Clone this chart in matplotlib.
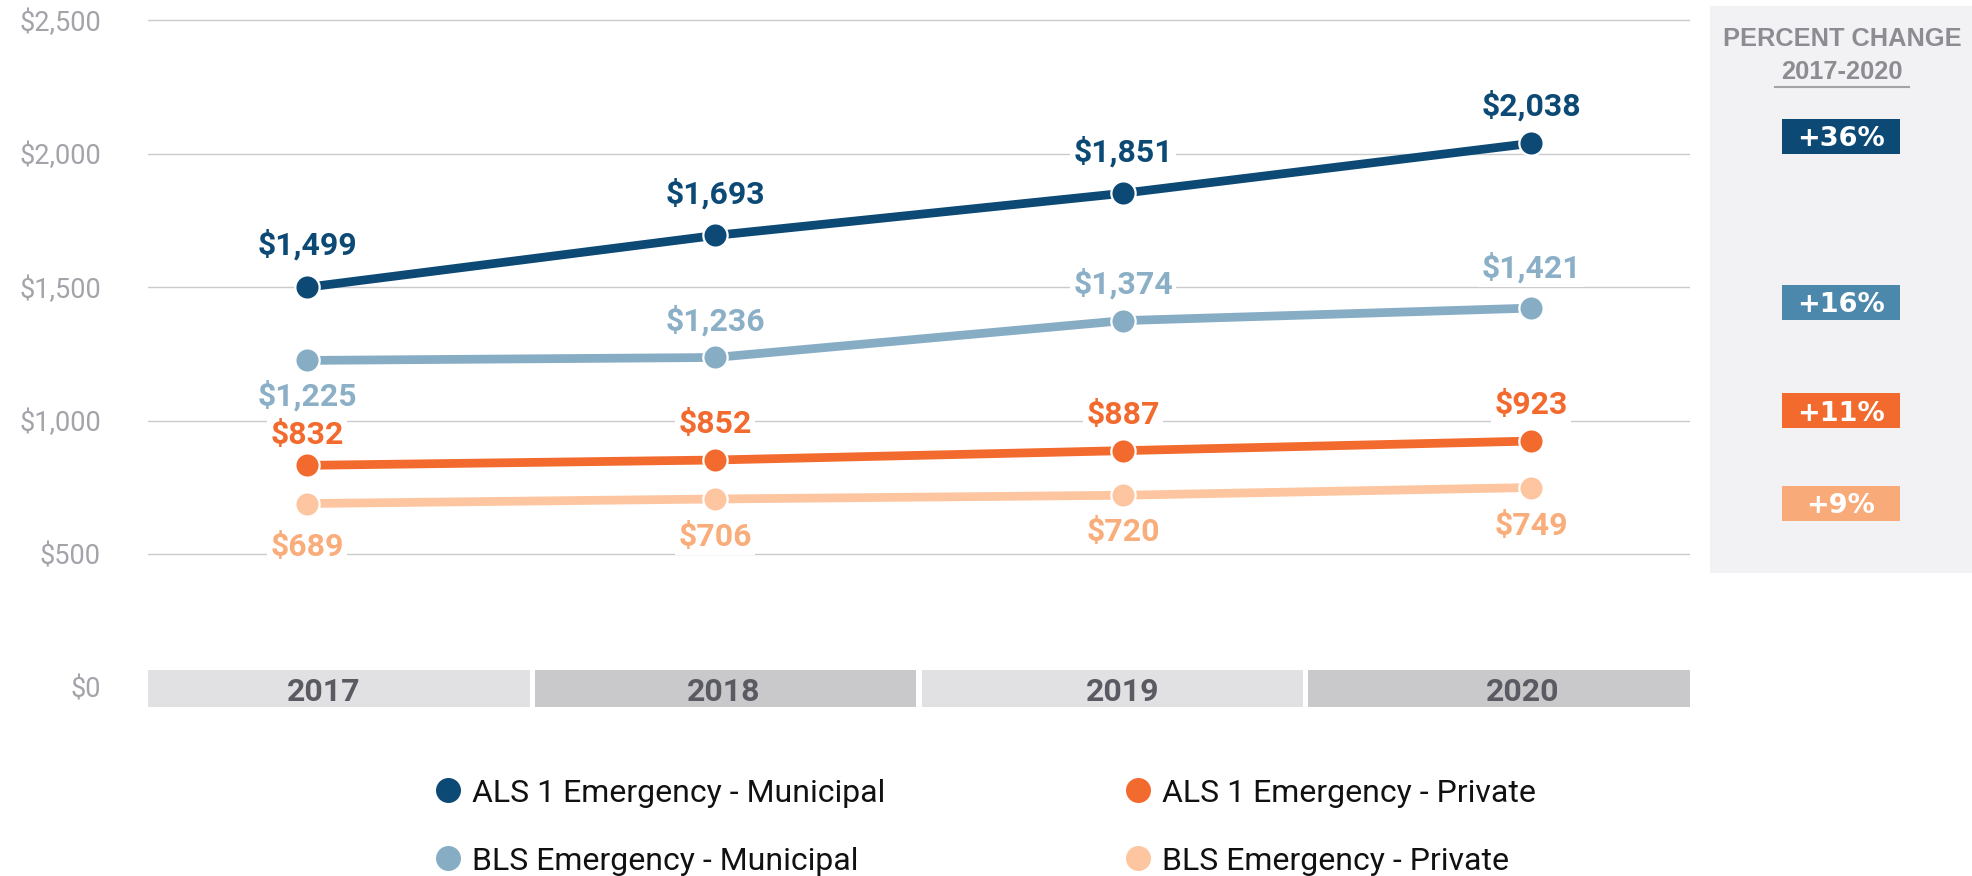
import matplotlib
matplotlib.use("Agg")
import matplotlib.pyplot as plt
from matplotlib.patches import Rectangle
from matplotlib.lines import Line2D

# ---------------- data ----------------
years = ["2017", "2018", "2019", "2020"]
series_names = ["ALS 1 Emergency - Municipal", "BLS Emergency - Municipal",
                "ALS 1 Emergency - Private", "BLS Emergency - Private"]
als_municipal = [1499, 1693, 1851, 2038]
bls_municipal = [1225, 1236, 1374, 1421]
als_private = [832, 852, 887, 923]
bls_private = [689, 706, 720, 749]
pct_change = ["+36%", "+16%", "+11%", "+9%"]
yticks = [0, 500, 1000, 1500, 2000, 2500]
ytick_labels = ["$0", "$500", "$1,000", "$1,500", "$2,000", "$2,500"]
panel_title = ["PERCENT CHANGE", "2017-2020"]

# ---------------- style ----------------
line_colors = ["#0c4a75", "#87adc5", "#f26a2d", "#fdc6a0"]
label_colors = ["#0c4a75", "#8aafc6", "#f26a2d", "#f9ad7b"]
badge_colors = ["#0c4a75", "#4b88ac", "#f26a2d", "#f8ab78"]
band_colors = ["#e1e1e3", "#c9c9cb", "#e1e1e3", "#c9c9cb"]
FONT = ["Roboto", "DejaVu Sans"]
plt.rcParams["font.family"] = FONT

W, H = 1972, 876
fig = plt.figure(figsize=(W / 100, H / 100), dpi=100)


def fx(px):
    return px / W


def fy(py):
    return 1 - py / H


# main axes geometry (pixels)
px_per_unit = 133.5 / 500.0
y0_px = 687.5
ylo, yhi = -300, 2550
left_px, right_px = 148, 1690
bottom_px = y0_px - ylo * px_per_unit
top_px = y0_px - yhi * px_per_unit
ax = fig.add_axes([fx(left_px), fy(bottom_px), (right_px - left_px) / W,
                   (bottom_px - top_px) / H])
ax.set_ylim(ylo, yhi)
x = list(range(len(years)))
xl, xr = -0.3897, 3.3897
ax.set_xlim(xl, xr)
for s in ax.spines.values():
    s.set_visible(False)
ax.set_xticks([])
ax.set_yticks(yticks)
ax.set_yticklabels(ytick_labels)
ax.tick_params(axis="y", length=0, pad=34, labelsize=19.5, labelcolor="#a3a3a9")
for t in yticks[1:]:
    ax.axhline(t, color="#cbcbcb", lw=1.0, zorder=1)

# year bands
gap = 5 / 408.0
bw = ((xr - xl) - 3 * gap) / 4
band_lo, band_hi = -73, 65.5
year_label_x = [0.04, 1.02, 2.0, 2.98]
for i, yr in enumerate(years):
    bx = xl + i * (bw + gap)
    ax.add_patch(Rectangle((bx, band_lo), bw, band_hi - band_lo,
                           facecolor=band_colors[i], edgecolor="none", zorder=2))
    ax.text(year_label_x[i], (band_lo + band_hi) / 2, yr, ha="center", va="center_baseline",
            fontsize=23, fontweight="bold", color="#5a5a62", zorder=3)

# lines
all_series = [als_municipal, bls_municipal, als_private, bls_private]
offsets = [
    [42, 42, 41, 38],
    [-35, 37, 37, 40],
    [30, 36, 36, 36],
    [-43, -38, -37, -38],
]
for k, vals in enumerate(all_series):
    ax.plot(x, vals, color=line_colors[k], lw=6.3, marker="o", markersize=17.5,
            markerfacecolor=line_colors[k], markeredgecolor="white",
            markeredgewidth=1.6, zorder=5 + (3 - k), solid_capstyle="butt")
    for i, v in enumerate(vals):
        off = offsets[k][i] * 0.72
        ax.annotate(f"${v:,}", (x[i], v), xytext=(0, off), textcoords="offset points",
                    ha="center", va="center", fontsize=23, fontweight="bold",
                    color=label_colors[k], zorder=10,
                    bbox=dict(boxstyle="square,pad=0.1", facecolor="white", edgecolor="none"))

# right panel
fig.add_artist(Rectangle((fx(1710), fy(573)), fx(1972) - fx(1710), (573 - 6) / H,
                         transform=fig.transFigure, facecolor="#f2f2f4",
                         edgecolor="none", zorder=0))
fig.text(fx(1842), fy(39), panel_title[0], ha="center", va="center", fontsize=18.3,
         fontweight="bold", color="#8c8c92", family=["Liberation Sans", "DejaVu Sans"])
fig.text(fx(1842), fy(72), panel_title[1], ha="center", va="center", fontsize=18.3,
         fontweight="bold", color="#8c8c92", family=["Liberation Sans", "DejaVu Sans"])
fig.add_artist(Line2D([fx(1775), fx(1909)], [fy(87), fy(87)], transform=fig.transFigure,
                      color="#a3a3a8", lw=1.5))
badge_centers = [136, 302, 411, 503]
badge_h = 35
for k, lab in enumerate(pct_change):
    cy = badge_centers[k]
    fig.add_artist(Rectangle((fx(1782), fy(cy + badge_h / 2)), fx(1900) - fx(1782), badge_h / H,
                             transform=fig.transFigure, facecolor=badge_colors[k],
                             edgecolor="none", zorder=1))
    fig.text(fx(1841), fy(cy), lab, ha="center", va="center_baseline", fontsize=19.5,
             fontweight="bold", color="white", zorder=2, family=["DejaVu Sans"])

# legend
leg_pos = [(448, 790), (448, 858), (1138, 790), (1138, 858)]
for k, name in enumerate(series_names):
    mx, my = leg_pos[k]
    fig.add_artist(Line2D([fx(mx)], [fy(my)], transform=fig.transFigure, marker="o",
                          markersize=18, color=line_colors[k], markeredgecolor="none",
                          linestyle="none"))
    fig.text(fx(mx + 24), fy(my), name, ha="left", va="center_baseline", fontsize=23,
             color="#111111")

fig.savefig("out.png", dpi=100)
